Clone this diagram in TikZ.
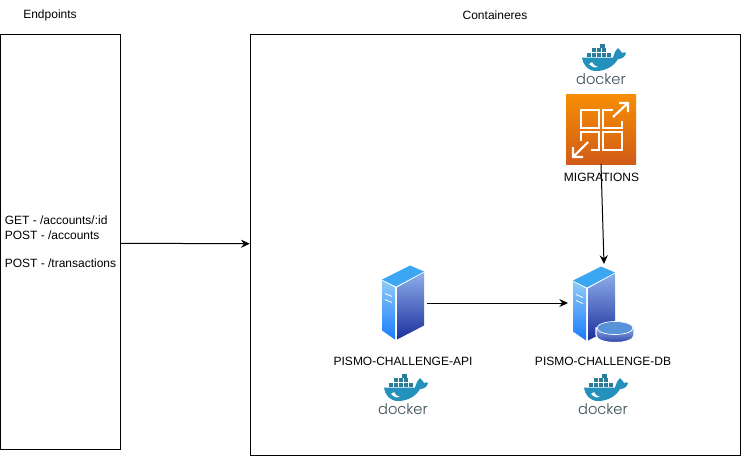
\documentclass[tikz,border=0pt]{standalone}
\usepackage{fontspec}
\setmainfont{Liberation Sans}
\newfontfamily\dockerfont[UprightFont={* Light}]{Poppins}
\usetikzlibrary{arrows.meta,positioning,calc}

\definecolor{hullblue}{HTML}{2491BD}
\definecolor{boxteal}{HTML}{2C7C99}
\definecolor{dockerink}{HTML}{3A4D54}
\definecolor{facetop}{HTML}{3BA6F2}
\definecolor{sidelight}{HTML}{8FCBF6}
\definecolor{sidedark}{HTML}{1A7CFF}
\definecolor{frontlight}{HTML}{8DAEEA}
\definecolor{frontdark}{HTML}{1C2F9C}
\definecolor{migrtop}{HTML}{F78E04}
\definecolor{migrbottom}{HTML}{D05C17}

\tikzset{
  label/.style={font=\fontsize{9}{10.7}\selectfont,inner sep=0pt},
  framebox/.style={draw=black,line width=0.75pt,inner sep=0pt},
  iconbox/.style={inner sep=0pt,outer sep=0pt},
  link/.style={-{Stealth[length=6.5pt,width=6pt]},line width=0.75pt,black},
  glyph/.style={draw=white,line width=1.6pt},
  dockerlogo/.pic={
    % whale
    \fill[hullblue] (-19,-7.5) -- (12,-7.5) .. controls (13,-11) and (14,-14) .. (17,-17)
      .. controls (19,-15) and (20,-14) .. (21,-12) .. controls (23,-13) and (25,-13) .. (25,-12)
      .. controls (24,-8) and (21,-6) .. (17,-6) .. controls (13,1) and (5,6) .. (-5,6)
      .. controls (-13,6) and (-18,0) .. (-19,-7.5) -- cycle;
    \fill[white] (-12,-1) .. controls (-8,3) and (-5,3) .. (-3,2) .. controls (-6,1) and (-8,0) .. (-9,-3) -- cycle;
    % containers
    \foreach \cx in {-14,-9,-4,1,6}
      \fill[boxteal] (\cx,-12.5) rectangle +(4.4,4);
    \foreach \cx in {-9,-4,1}
      \fill[boxteal] (\cx,-17) rectangle +(4.4,4);
    \fill[boxteal] (-1,-21) rectangle +(5.4,4);
    \node[font=\dockerfont\fontsize{11}{12}\selectfont,text=dockerink,inner sep=0pt] at (0,14) {docker};
  },
  serverpic/.pic={
    \shade[top color=sidelight,bottom color=sidedark] (-21,-22) -- (-8,-15) -- (-8,37) -- (-21,28) -- cycle;
    \shade[top color=frontlight,bottom color=frontdark] (-6,-15) -- (21,-30) -- (21,23) -- (-6,37) -- cycle;
    \fill[facetop] (-21,-23) -- (7,-37) -- (21,-31) -- (-7,-16) -- cycle;
    \draw[white,line width=0.6pt] (-18,-9) -- (-11,-6) (-18,-3) -- (-11,0);
  }
}

\begin{document}
\begin{tikzpicture}[x=0.75pt,y=-0.75pt]
\useasboundingbox (0,0) rectangle (741,455);

% Endpoints side
\node (endpointstitle) [label] at (50,15) {Endpoints};
\node (endpoints) [framebox,minimum width=89.6pt,minimum height=310.9pt] at (60.5,241.75) {};
\node (routes) [label,align=left,anchor=west] at (4.5,242) {GET - /accounts/:id\\POST - /accounts\\[10.7pt]POST - /transactions};

% Containers side
\node (containerstitle) [label] at (495,15) {Containeres};
\node (containers) [framebox,minimum width=367.6pt,minimum height=315.4pt] at (495.3,244.75) {};

% Migrations
\pic at (601,65) {dockerlogo};
\node (migrations) [iconbox,minimum size=52.5pt,top color=migrtop,bottom color=migrbottom] at (601,129) {};
\begin{scope}[shift={(migrations.center)}]
\draw[glyph] (-20,-19) rectangle (-2,-1);
\draw[glyph] (12,-19) -- (2,-19) -- (2,-1) -- (21,-1) -- (21,-8);
\draw[glyph] (-20,12) -- (-20,3) -- (-2,3) -- (-2,21) -- (-10,21);
\draw[glyph] (2,3) rectangle (21,21);
\draw[glyph] (12,-12) -- (27,-26) (18,-26) -- (27,-26) -- (27,-17);
\draw[glyph] (-13,13) -- (-28,28) (-28,18) -- (-28,28) -- (-18,28);
\end{scope}
\node (migrationslabel) [label] at (601.5,177) {MIGRATIONS};

% Api server
\node (api) [iconbox,minimum width=34.5pt,minimum height=57pt] at (404,303) {};
\pic at (403,302.5) {serverpic};
\node (apilabel) [label] at (403,361) {PISMO-CHALLENGE-API};
\pic at (403,395) {dockerlogo};

% Database server
\node (db) [iconbox,minimum width=54pt,minimum height=58.5pt] at (604,303) {};
\pic at (594,303.5) {serverpic};
\shade[top color=frontlight,bottom color=frontdark,draw=white,line width=0.8pt] (596,328) -- (596,335) .. controls (596,345) and (634,345) .. (634,335) -- (634,328) -- cycle;
\fill[facetop!60!frontdark!80!white,draw=white,line width=0.5pt] (615,328) ellipse (18 and 6.5);
\node (dblabel) [label] at (603,361) {PISMO-CHALLENGE-DB};
\pic at (603,395) {dockerlogo};

% Connectors
\draw[link] ($(endpoints.east)+(0,1.5)$) -- ($(containers.west)+(0,-1)$);
\draw[link] (migrations.south) -- (db.north);
\draw[link] (api.east) -- (db.west);
\end{tikzpicture}
\end{document}
